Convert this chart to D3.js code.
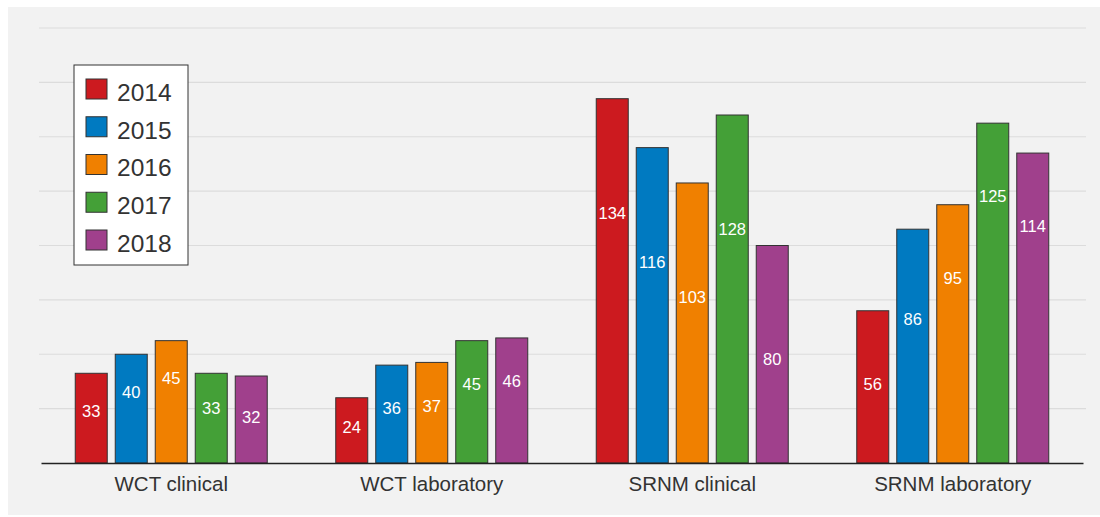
<!DOCTYPE html>
<html>
<head>
<meta charset="utf-8">
<script src="https://cdn.jsdelivr.net/npm/d3@7"></script>
<style>
  html, body { margin: 0; padding: 0; background: #fff; }
  svg { display: block; font-family: "Liberation Sans", Arial, sans-serif; }
</style>
</head>
<body>
<svg id="chart"></svg>
<script>
// data
const categories = ["WCT clinical", "WCT laboratory", "SRNM clinical", "SRNM laboratory"];
const years = ["2014", "2015", "2016", "2017", "2018"];
const values2014 = [33, 24, 134, 56];
const values2015 = [40, 36, 116, 86];
const values2016 = [45, 37, 103, 95];
const values2017 = [33, 45, 128, 125];
const values2018 = [32, 46, 80, 114];
const yTicks = [0, 20, 40, 60, 80, 100, 120, 140, 160];

// how far below the bar top each value label sits (in value units)
const labelDrop = [
  [14, 14, 14, 13, 15],
  [11, 16, 16, 16, 16],
  [42, 42, 42, 42, 42],
  [27, 33, 27, 27, 27]
];

const colors = ["#cc1a1f", "#007ac1", "#f08000", "#44a037", "#a0408c"];

const series = [values2014, values2015, values2016, values2017, values2018];

const svgWidth = 1100, svgHeight = 517;

const svg = d3.select("#chart")
  .attr("width", svgWidth)
  .attr("height", svgHeight);

// grey panel
svg.append("rect")
  .attr("x", 8).attr("y", 7)
  .attr("width", svgWidth - 8).attr("height", 508)
  .attr("fill", "#f2f2f2");

const x0 = d3.scaleBand()
  .domain(categories)
  .range([41, 1083]);

const bw = x0.bandwidth();
const x1 = d3.scaleBand()
  .domain(years)
  .range([bw / 2 - 100, bw / 2 + 100])
  .paddingInner(0.2)
  .paddingOuter(0.1);

const y = d3.scaleLinear()
  .domain([0, 160])
  .range([463, 28]);

// gridlines
svg.append("g")
  .selectAll("line")
  .data(yTicks.slice(1))
  .join("line")
  .attr("x1", 39).attr("x2", 1086)
  .attr("y1", d => y(d)).attr("y2", d => y(d))
  .attr("stroke", "#dcdcdc")
  .attr("stroke-width", 1.2);

// bars
const groups = svg.append("g")
  .selectAll("g")
  .data(categories)
  .join("g")
  .attr("transform", d => "translate(" + x0(d) + ",0)");

groups.selectAll("rect")
  .data((c, ci) => years.map((yr, yi) => ({ yr: yr, yi: yi, ci: ci, v: series[yi][ci] })))
  .join("rect")
  .attr("x", d => x1(d.yr))
  .attr("y", d => y(d.v))
  .attr("width", x1.bandwidth())
  .attr("height", d => y(0) - y(d.v))
  .attr("fill", d => colors[d.yi])
  .attr("stroke", "#333")
  .attr("stroke-width", 1);

groups.selectAll("text")
  .data((c, ci) => years.map((yr, yi) => ({ yr: yr, yi: yi, ci: ci, v: series[yi][ci] })))
  .join("text")
  .attr("x", d => x1(d.yr) + x1.bandwidth() / 2)
  .attr("y", d => y(d.v - labelDrop[d.ci][d.yi]))
  .attr("dy", "0.35em")
  .attr("text-anchor", "middle")
  .attr("fill", "#fff")
  .attr("font-size", 16.5)
  .text(d => d.v);

// x axis
const xAxis = svg.append("g")
  .attr("transform", "translate(0," + y(0) + ")")
  .call(d3.axisBottom(x0).tickSize(0).tickPadding(13));

xAxis.select(".domain")
  .attr("stroke", "#222")
  .attr("stroke-width", 1.5);

xAxis.selectAll("text")
  .attr("font-size", 20.5)
  .attr("font-family", "Liberation Sans, Arial, sans-serif")
  .attr("fill", "#333");

// legend
const legend = svg.append("g");
legend.append("rect")
  .attr("x", 74).attr("y", 65)
  .attr("width", 114).attr("height", 200)
  .attr("fill", "#fff")
  .attr("stroke", "#333")
  .attr("stroke-width", 1);

const item = legend.selectAll("g")
  .data(years)
  .join("g")
  .attr("transform", (d, i) => "translate(86," + (79 + i * 37.75) + ")");

item.append("rect")
  .attr("width", 21).attr("height", 20)
  .attr("fill", (d, i) => colors[i])
  .attr("stroke", "#333")
  .attr("stroke-width", 1);

item.append("text")
  .attr("x", 31)
  .attr("y", 13)
  .attr("dy", "0.36em")
  .attr("font-size", 24.5)
  .attr("fill", "#333")
  .text(d => d);
</script>
</body>
</html>
